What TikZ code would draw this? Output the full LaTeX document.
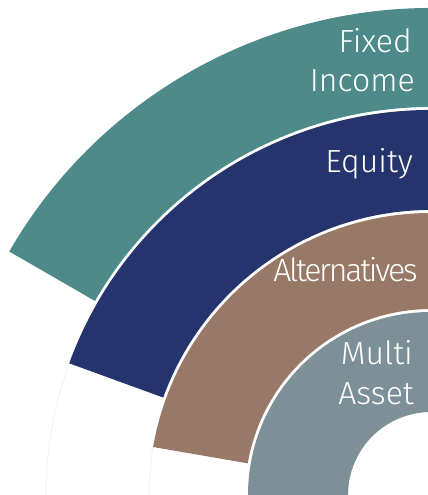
\documentclass[tikz,border=0pt]{standalone}
\usepackage{fontspec}
\setmainfont{Fira Sans}[UprightFont=* Light]
\definecolor{fixedinc}{HTML}{4F8A8B}
\definecolor{equity}{HTML}{25346D}
\definecolor{altern}{HTML}{987866}
\definecolor{multi}{HTML}{7E9097}
\definecolor{ghost}{HTML}{F1F2F4}
\tikzset{
  label/.style={text=white, inner sep=0pt, anchor=base east,
    font=\fontsize{32}{39}\selectfont},
  tightlabel/.style={label, font=\fontsize{32}{39}\selectfont\addfontfeature{LetterSpace=-7}},
  ghostline/.style={draw=ghost, line width=1pt}
}
% ring sector: #1 colour, #2 inner radius, #3 outer radius, #4 end angle
\newcommand{\ringsector}[4]{%
  \fill[#1] ([shift={(80:#3)}]c) arc[start angle=80, end angle=#4, radius=#3]
    -- ([shift={(#4:#2)}]c) arc[start angle=#4, end angle=80, radius=#2] -- cycle;}
\begin{document}
\begin{tikzpicture}[x=1pt, y=1pt]
\useasboundingbox (0,0) rectangle (428,495);
\clip (0,0) rectangle (428,495);
\coordinate (c) at (431,0);

% faint continuations of the outer edges
\draw[ghostline] ([shift={(160:385)}]c) arc[start angle=160, end angle=185, radius=385];
\draw[ghostline] ([shift={(170:282)}]c) arc[start angle=170, end angle=185, radius=282];

% the four bands
\ringsector{fixedinc}{388}{487}{150}
\ringsector{equity}{285}{385}{160}
\ringsector{altern}{186}{282}{170.2}
\ringsector{multi}{83}{183}{190}

% labels
\node[label] (fixed) at (412,442) {Fixed};
\node[label] (income) at (415,403) {Income};
\node[label] (eq) at (413,322) {Equity};
\node[tightlabel] (alt) at (418,213) {Alternatives};
\node[label] (mul) at (413,130) {Multi};
\node[label] (asset) at (414,90) {Asset};
\end{tikzpicture}
\end{document}
